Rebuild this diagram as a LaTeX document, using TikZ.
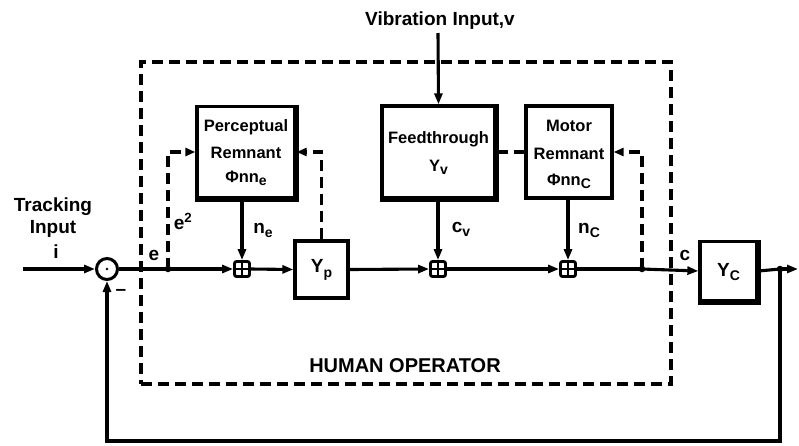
\documentclass[tikz,border=0pt]{standalone}
\usepackage{fontspec}
\setmainfont{Liberation Sans}
\usetikzlibrary{arrows.meta,calc}
\newcommand{\lowsub}[1]{\raisebox{-0.45ex}{\fontsize{14}{14}\selectfont #1}}
\begin{document}
\begin{tikzpicture}[x=1pt,y=-1pt,
  lbl/.style={font=\bfseries\fontsize{19}{21}\selectfont, inner sep=0pt},
  btxt/.style={font=\bfseries\fontsize{16.5}{19}\selectfont, inner sep=0pt},
  blk/.style={draw, line width=3.3pt, inner sep=0pt, rectangle},
  shadowedge/.style={line width=4.8pt},
  sj/.style={draw, line width=2.8pt, minimum size=15pt, inner sep=0pt, rectangle, rounded corners=2pt,
    path picture={\draw[line width=2.2pt] (path picture bounding box.north) -- (path picture bounding box.south)
      (path picture bounding box.west) -- (path picture bounding box.east);}},
  wire/.style={line width=3.1pt},
  arr/.style={wire, -{Triangle[length=11pt,width=8pt]}},
  dsh/.style={line width=3.2pt, dash pattern=on 11pt off 6pt},
  darr/.style={dsh, -{Triangle[length=10pt,width=8pt]}},
  dot/.style={circle, fill, inner sep=0pt, minimum size=6.5pt},
]
\useasboundingbox (0,0) rectangle (799,445);

% human operator frame
\node[draw, dsh, minimum width=530pt, minimum height=322pt, inner sep=0pt] (hum) at (406,223) {};
\node[font=\bfseries\fontsize{20}{21}\selectfont, inner sep=0pt] (humlbl) at (405,366) {HUMAN OPERATOR};

% blocks
\node[blk, minimum width=98pt, minimum height=91pt] (per) at (246,152) {};
\node[btxt, anchor=base] at (246,131) {Perceptual};
\node[btxt, anchor=base] at (246,158) {Remnant};
\node[btxt, anchor=base] at (246,182) {Φnn\lowsub{e}};

\node[blk, minimum width=113pt, minimum height=92pt] (ft) at (438.5,152) {};
\node[btxt, anchor=base] at (438.5,143) {Feedthrough};
\node[btxt, anchor=base] at (438.5,171) {Y\lowsub{v}};

\node[blk, minimum width=86pt, minimum height=92pt] (mr) at (569,152) {};
\node[btxt, anchor=base] at (569,131) {Motor};
\node[btxt, anchor=base] at (569,159) {Remnant};
\node[btxt, anchor=base] at (569,185) {Φnn\lowsub{C}};

\node[blk, minimum width=53pt, minimum height=57pt] (yp) at (321.5,269.5) {};
\node[lbl] at (321.5,270) {Y\lowsub{p}};

\node[blk, minimum width=57pt, minimum height=59pt] (yc) at (728.5,271) {};
\node[lbl] at (728.5,272) {Y\lowsub{C}};

\foreach \b in {per,ft,yc}{
  \draw[shadowedge] (\b.north east) -- (\b.south east) -- (\b.south west);
}

% junctions
\node[circle, draw, line width=3pt, minimum size=21pt, inner sep=0pt] (sum) at (107,269) {};
\fill (sum) circle (1.3pt);
\node[sj] (s1) at (242,269) {};
\node[sj] (s2) at (438,269) {};
\node[sj] (s3) at (568,269) {};

% points
\coordinate (in) at (23,269);
\coordinate (eb) at (168,269);
\coordinate (cb) at (642,269);
\coordinate (ob) at (780,269);
\coordinate (out) at (798,269);
\coordinate (fb) at (780,441);
\coordinate (vib) at (438,33);

% main path
\draw[arr] (in) -- (sum.west);
\draw[wire] (sum.east) -- (eb);
\draw[arr] (eb) -- (s1.west);
\draw[arr] (s1.east) -- (yp.west);
\draw[arr] (yp.east) -- (s2.west);
\draw[arr] (s2.east) -- (s3.west);
\draw[wire] (s3.east) -- (cb);
\draw[arr] (cb) -- (yc.west);
\draw[wire] (yc.east) -- (ob);
\draw[arr] (ob) -- (out);
\draw[arr] (ob) -- (fb) -| (sum.south);
\node[dot] at (eb) {};
\node[dot] at (cb) {};
\node[dot] at (ob) {};

% vertical inputs
\draw[arr] (vib) -- (ft.north);
\draw[arr] (per.south -| s1) -- (s1.north);
\draw[arr] (ft.south -| s2) -- (s2.north);
\draw[arr] (mr.south -| s3) -- (s3.north);

% dashed feedbacks
\draw[darr] (eb) |- (per.west);
\draw[darr] (yp.north) |- (per.east);
\draw[dsh] (ft.east) -- (mr.west);
\draw[darr] (cb) |- (mr.east);

% labels
\node[lbl, anchor=base] at (53,211) {Tracking};
\node[lbl, anchor=base] at (53,233) {Input};
\node[lbl, anchor=base] at (56,258) {i};
\node[lbl, anchor=base] at (440,25) {Vibration Input,v};
\node[lbl, anchor=base] at (154,260) {e};
\node[lbl, anchor=base] at (183,229) {e\textsuperscript{2}};
\node[lbl, anchor=base] at (263,233) {n\lowsub{e}};
\node[lbl, anchor=base] at (461,232) {c\lowsub{v}};
\node[lbl, anchor=base] at (589,233) {n\lowsub{C}};
\node[lbl, anchor=base] at (685,260) {c};
\node[lbl] at (121,292) {–};
\end{tikzpicture}
\end{document}
